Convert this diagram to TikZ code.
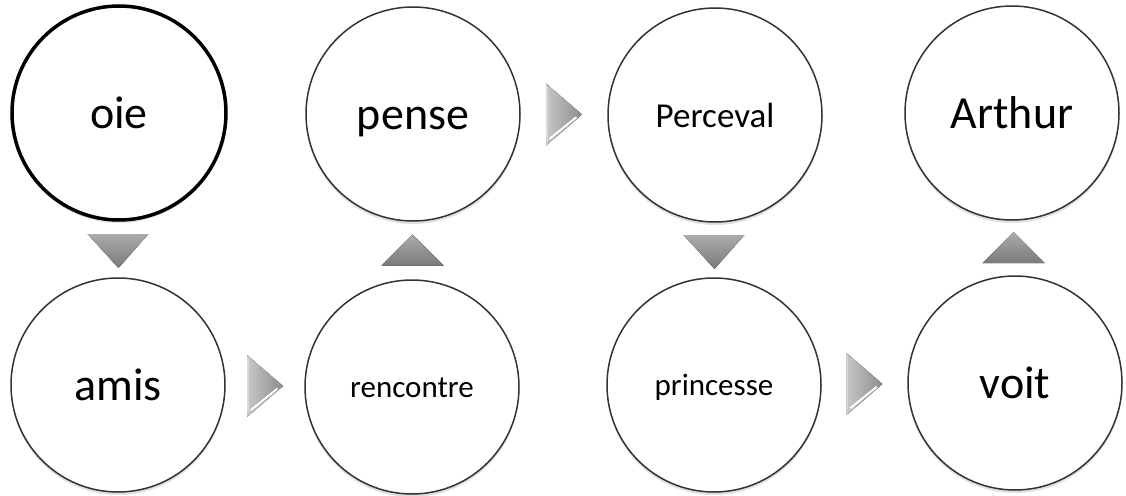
\documentclass[tikz,border=0pt]{standalone}
\usepackage{fontspec}
\setmainfont{Carlito}
\usetikzlibrary{calc,shadows}
\tikzset{
  bub/.style={circle, minimum size=214pt, inner sep=0pt, fill=white, draw=black!80, line width=1.5pt,
    text depth=0pt, drop shadow={shadow xshift=0pt, shadow yshift=-3pt, opacity=0.2, fill=black!60}},
  bigtxt/.style={font=\fontsize{46}{50}\selectfont, text height=30pt},
  midtxt/.style={font=\fontsize{35}{40}\selectfont, text height=24pt},
  smalltxt/.style={font=\fontsize{31}{36}\selectfont, text height=20pt},
  vfill/.style={top color=black!33, bottom color=black!52, draw=none},
  hfill/.style={left color=black!22, right color=black!45, draw=none},
}
\begin{document}
\begin{tikzpicture}[x=1pt,y=-1pt]
\useasboundingbox (0,0) rectangle (1126,495);
% circles
\node[bub, draw=black, line width=3.5pt, bigtxt] (oie) at (119,113) {oie};
\node[bub, bigtxt] (pense) at (413,114) {pense};
\node[bub, midtxt] (perc) at (715,115) {Perceval};
\node[bub, bigtxt] (arthur) at (1012,113) {Arthur};
\node[bub, bigtxt] (amis) at (118,385) {amis};
\node[bub, smalltxt] (renc) at (412,387) {rencontre};
\node[bub, smalltxt] (princ) at (714,385) {princesse};
\node[bub, bigtxt] (voit) at (1015,383) {voit};
% midpoints
\coordinate (m1) at ($(oie)!0.5!(amis)$);
\coordinate (m2) at ($(amis)!0.5!(renc)$);
\coordinate (m3) at ($(renc)!0.5!(pense)$);
\coordinate (m4) at ($(pense)!0.5!(perc)$);
\coordinate (m5) at ($(perc)!0.5!(princ)$);
\coordinate (m6) at ($(princ)!0.5!(voit)$);
\coordinate (m7) at ($(voit)!0.5!(arthur)$);
% down arrows
\foreach \m in {m1,m5}{
  \fill[vfill] ([shift={(-31,-15)}]\m) -- ([shift={(30,-15)}]\m) -- ([shift={(0,19)}]\m) -- cycle;
}
% up arrows
\foreach \m in {m3,m7}{
  \fill[vfill] ([shift={(-31,15)}]\m) -- ([shift={(31,15)}]\m) -- ([shift={(0,-16)}]\m) -- cycle;
}
% right arrows
\foreach \m in {m2,m4,m6}{
  \fill[hfill] ([shift={(-18,-31)}]\m) -- ([shift={(18,0)}]\m) -- ([shift={(-18,31)}]\m) -- cycle;
  \draw[white, line width=2pt, line cap=round] ([shift={(-14,24)}]\m) -- ([shift={(12,3)}]\m);
  \draw[black!15, line width=1.5pt] ([shift={(-17,-28)}]\m) -- ([shift={(-17,26)}]\m);
}
\end{tikzpicture}
\end{document}
